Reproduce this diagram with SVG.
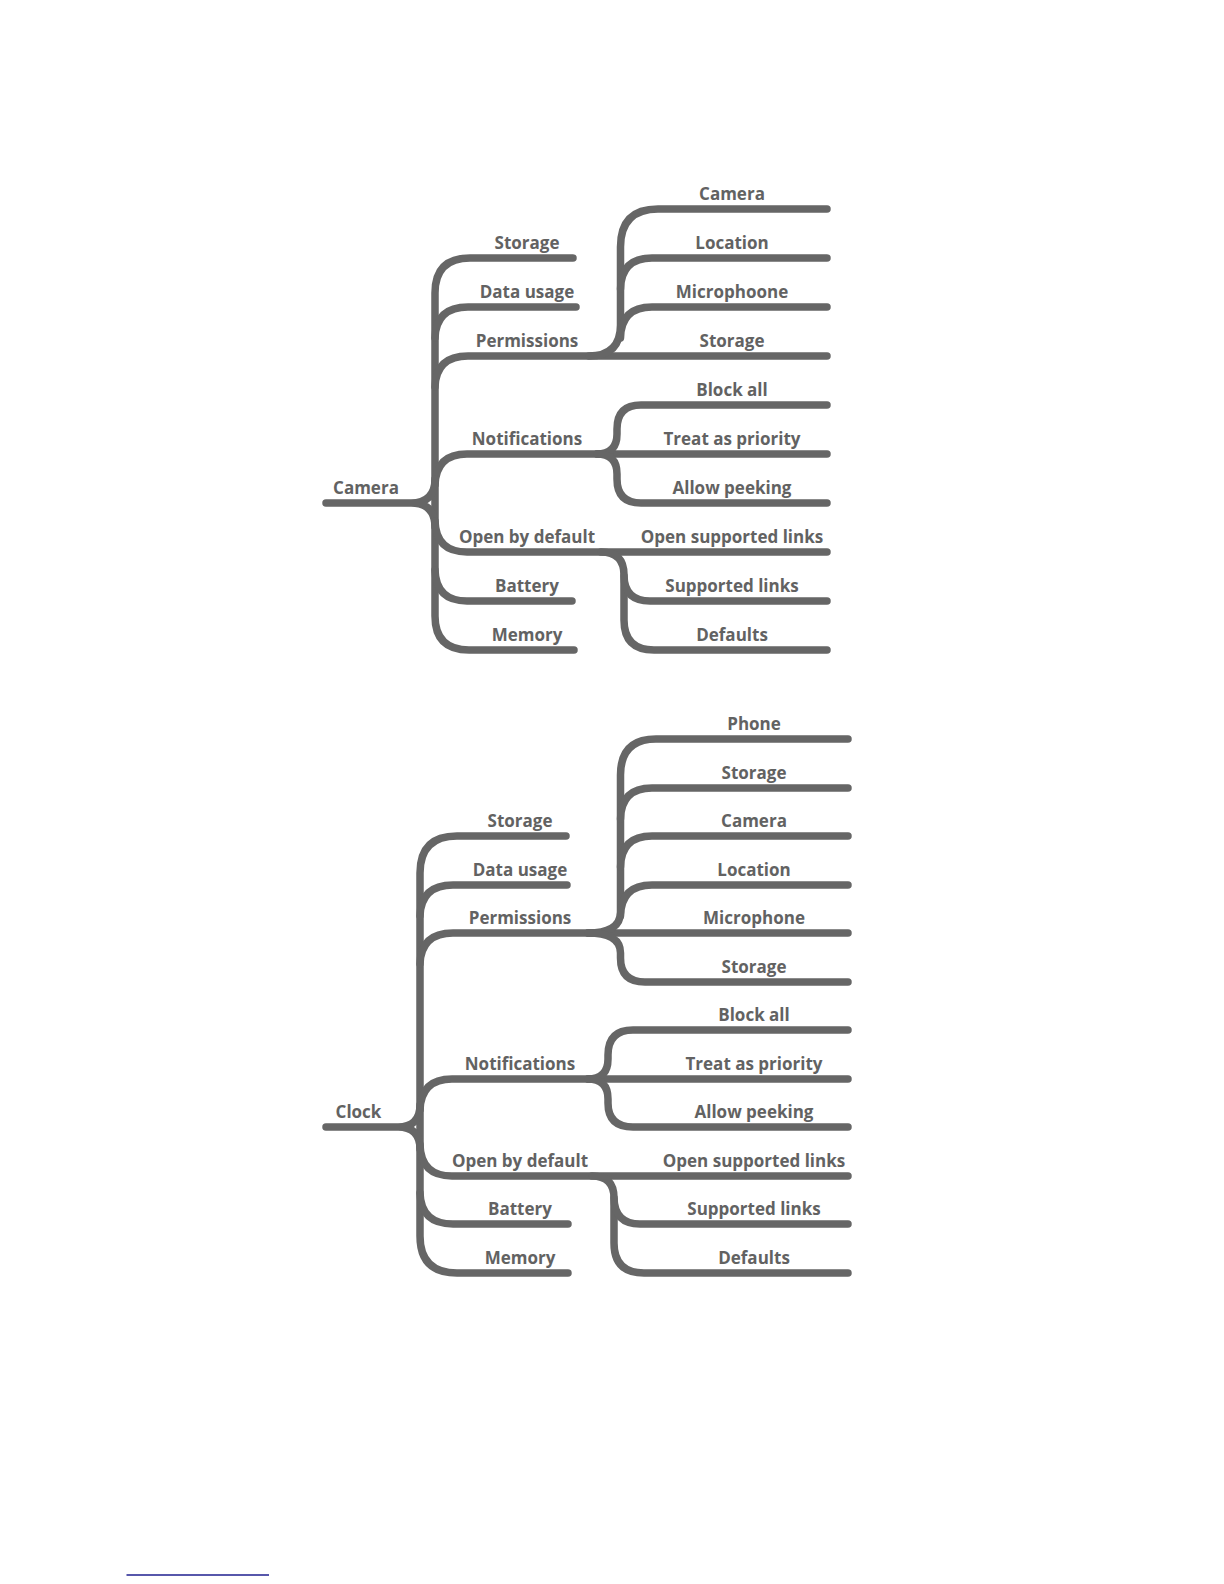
<svg xmlns="http://www.w3.org/2000/svg" width="1224" height="1584" viewBox="0 0 1224 1584">
<style>
  .c{fill:none;stroke:#666;stroke-width:7.5;stroke-linecap:round;stroke-linejoin:round}
  text{font-family:"Open Sans","Liberation Sans",sans-serif;font-weight:700;font-size:17px;fill:#626262;text-anchor:middle}
</style>
<rect width="1224" height="1584" fill="#fff"/>
<g id="connectors">
  <!-- Camera tree -->
  <path class="c" d="M573 258 H470 Q435 258 435 293 V616 Q435 650 469 650 H574"/>
  <path class="c" d="M576 307 H468 Q436 307 435 338"/>
  <path class="c" d="M435 387 Q436 356 468 356 H827"/>
  <path class="c" d="M435 485 Q436 454 467 454 H827"/>
  <path class="c" d="M326 503 H411 Q435 503 435 479 M411 503 Q435 503 435 527"/>
  <path class="c" d="M435 521 Q436 552 467 552 H827"/>
  <path class="c" d="M435 570 Q436 601 467 601 H572"/>
  <path class="c" d="M589 356 Q620.5 356 620.5 325 V247 Q620.5 209 658 209 H827"/>
  <path class="c" d="M620.5 289 Q621 258 652 258 H827"/>
  <path class="c" d="M620.5 338 Q621 307 652 307 H827"/>
  <path class="c" d="M597 454 Q617 454 617 434 V429 Q617 405 641 405 H827"/>
  <path class="c" d="M597 454 Q617 454 617 474 V479 Q617 503 641 503 H827"/>
  <path class="c" d="M601 552 Q624 552 624 575 V620 Q624 650 654 650 H827"/>
  <path class="c" d="M624 576 Q624.5 601 650 601 H827"/>
  <!-- Clock tree -->
  <path class="c" d="M566 836 H457 Q420 836 420 873 V1236 Q420 1273 457 1273 H568"/>
  <path class="c" d="M567 885 H453 Q421 885 420 916"/>
  <path class="c" d="M420 964 Q421 933 453 933 H848"/>
  <path class="c" d="M420 1110 Q421 1079 452 1079 H848"/>
  <path class="c" d="M326 1127 H398 Q420 1127 420 1105 M398 1127 Q420 1127 420 1149"/>
  <path class="c" d="M420 1145 Q421 1176 452 1176 H848"/>
  <path class="c" d="M420 1193 Q421 1224 453 1224 H568"/>
  <path class="c" d="M588 933 Q620.5 933 620.5 912 V775 Q620.5 739 656 739 H848"/>
  <path class="c" d="M620.5 819 Q621 788 652 788 H848"/>
  <path class="c" d="M620.5 867 Q621 836 652 836 H848"/>
  <path class="c" d="M620.5 916 Q621 885 652 885 H848"/>
  <path class="c" d="M588 933 Q620.5 933 620.5 953 V958 Q620.5 982 645 982 H848"/>
  <path class="c" d="M588 1079 Q608 1079 608 1059 V1055 Q608 1030 633 1030 H848"/>
  <path class="c" d="M588 1079 Q608 1079 608 1099 V1103 Q608 1127 633 1127 H848"/>
  <path class="c" d="M592 1176 Q614 1176 614 1198 V1243 Q614 1273 644 1273 H848"/>
  <path class="c" d="M614 1198 Q614.5 1224 640 1224 H848"/>
</g>
<g id="camera-root"><text x="366" y="494">Camera</text></g>
<g id="camera-storage"><text x="527" y="249">Storage</text></g>
<g id="camera-data-usage"><text x="527" y="298">Data usage</text></g>
<g id="camera-permissions"><text x="527" y="347">Permissions</text></g>
<g id="camera-notifications"><text x="527" y="445">Notifications</text></g>
<g id="camera-open-by-default"><text x="527" y="543">Open by default</text></g>
<g id="camera-battery"><text x="527" y="592">Battery</text></g>
<g id="camera-memory"><text x="527" y="641">Memory</text></g>
<g id="camera-perm-camera"><text x="732" y="200">Camera</text></g>
<g id="camera-perm-location"><text x="732" y="249">Location</text></g>
<g id="camera-perm-microphone"><text x="732" y="298">Microphoone</text></g>
<g id="camera-perm-storage"><text x="732" y="347">Storage</text></g>
<g id="camera-notif-block"><text x="732" y="396">Block all</text></g>
<g id="camera-notif-priority"><text x="732" y="445">Treat as priority</text></g>
<g id="camera-notif-peeking"><text x="732" y="494">Allow peeking</text></g>
<g id="camera-open-links"><text x="732" y="543">Open supported links</text></g>
<g id="camera-supported-links"><text x="732" y="592">Supported links</text></g>
<g id="camera-defaults"><text x="732" y="641">Defaults</text></g>

<g id="clock-root"><text x="358.5" y="1118">Clock</text></g>
<g id="clock-storage"><text x="520" y="827">Storage</text></g>
<g id="clock-data-usage"><text x="520" y="876">Data usage</text></g>
<g id="clock-permissions"><text x="520" y="924">Permissions</text></g>
<g id="clock-notifications"><text x="520" y="1070">Notifications</text></g>
<g id="clock-open-by-default"><text x="520" y="1167">Open by default</text></g>
<g id="clock-battery"><text x="520" y="1215">Battery</text></g>
<g id="clock-memory"><text x="520" y="1264">Memory</text></g>
<g id="clock-perm-phone"><text x="754" y="730">Phone</text></g>
<g id="clock-perm-storage"><text x="754" y="779">Storage</text></g>
<g id="clock-perm-camera"><text x="754" y="827">Camera</text></g>
<g id="clock-perm-location"><text x="754" y="876">Location</text></g>
<g id="clock-perm-microphone"><text x="754" y="924">Microphone</text></g>
<g id="clock-perm-storage2"><text x="754" y="973">Storage</text></g>
<g id="clock-notif-block"><text x="754" y="1021">Block all</text></g>
<g id="clock-notif-priority"><text x="754" y="1070">Treat as priority</text></g>
<g id="clock-notif-peeking"><text x="754" y="1118">Allow peeking</text></g>
<g id="clock-open-links"><text x="754" y="1167">Open supported links</text></g>
<g id="clock-supported-links"><text x="754" y="1215">Supported links</text></g>
<g id="clock-defaults"><text x="754" y="1264">Defaults</text></g>

<line x1="126.5" y1="1575" x2="269" y2="1575" stroke="#1f1f8f" stroke-width="1.3"/>
</svg>
